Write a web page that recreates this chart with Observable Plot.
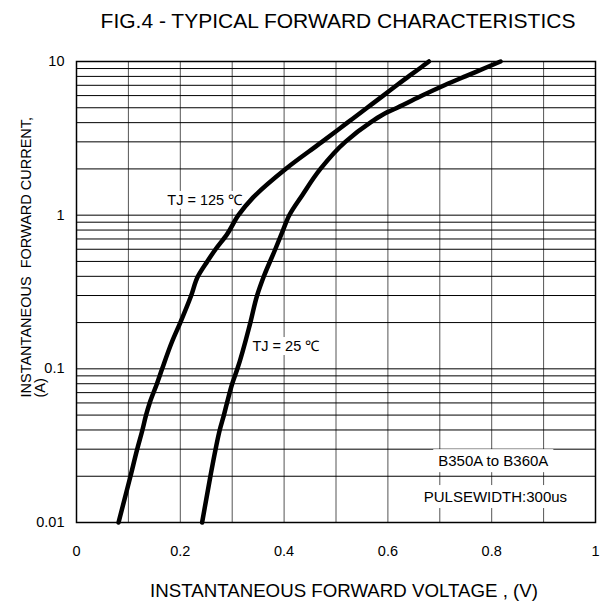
<!DOCTYPE html>
<html><head><meta charset="utf-8">
<script src="https://cdn.jsdelivr.net/npm/d3@7"></script>
<script src="https://cdn.jsdelivr.net/npm/@observablehq/plot@0.6"></script>
<style>
body{margin:0;background:#fff;}
#chart svg{display:block;}
</style></head><body><div id="chart"></div>
<script>
// ---- data ----
const titleText = "FIG.4 - TYPICAL FORWARD CHARACTERISTICS";
const xLabelText = "INSTANTANEOUS FORWARD VOLTAGE , (V)";
const yLabelText = "INSTANTANEOUS\u00a0 FORWARD CURRENT,\n(A)";

const xTicks = [0, 0.2, 0.4, 0.6, 0.8, 1];
const xTickLabels = ["0", "0.2", "0.4", "0.6", "0.8", "1"];
const yTicks = [0.01, 0.1, 1, 10];
const yTickLabels = ["0.01", "0.1", "1", "10"];

const xGrid = [0.1, 0.2, 0.3, 0.4, 0.5, 0.6, 0.7, 0.8, 0.9];
const yGrid = [0.02, 0.03, 0.04, 0.05, 0.06, 0.07, 0.08, 0.09,
               0.1, 0.2, 0.3, 0.4, 0.5, 0.6, 0.7, 0.8, 0.9,
               1, 2, 3, 4, 5, 6, 7, 8, 9];

// TJ = 125 °C
const tj125V = [0.081, 0.104, 0.117, 0.127, 0.134, 0.141, 0.155, 0.165, 0.184, 0.200, 0.221, 0.234, 0.252, 0.268, 0.290, 0.312, 0.340, 0.403, 0.473, 0.522, 0.560, 0.591, 0.617, 0.640, 0.661, 0.679];
const tj125I = [0.01, 0.02, 0.03, 0.04, 0.05, 0.06, 0.08, 0.1, 0.15, 0.2, 0.3, 0.4, 0.5, 0.6, 0.75, 1.0, 1.3, 2.0, 3.0, 4.0, 5.0, 6.0, 7.0, 8.0, 9.0, 10];
// TJ = 25 °C
const tj25V = [0.242, 0.258, 0.268, 0.276, 0.284, 0.290, 0.300, 0.310, 0.335, 0.348, 0.361, 0.383, 0.398, 0.410, 0.435, 0.470, 0.518, 0.566, 0.600, 0.618, 0.666, 0.709, 0.749, 0.785, 0.817];
const tj25I = [0.01, 0.02, 0.03, 0.04, 0.05, 0.06, 0.08, 0.1, 0.2, 0.3, 0.4, 0.6, 0.8, 1.0, 1.35, 2.0, 3.0, 4.0, 4.7, 5.0, 6.0, 7.0, 8.0, 9.0, 10];

// annotations (data coordinates)
const curveLabels = ["TJ = 125 \u2103", "TJ = 25 \u2103"];
const curveLabelV = [0.175, 0.339];
const curveLabelI = [1.25, 0.14];
const noteLabels = ["B350A to B360A", "PULSEWIDTH:300us"];
const noteLabelV = [0.697, 0.669];
const noteLabelI = [0.025, 0.0146];

// ---- build ----
const s125 = tj125V.map((v, i) => ({v, a: tj125I[i]}));
const s25 = tj25V.map((v, i) => ({v, a: tj25I[i]}));
const curveAnn = curveLabels.map((t, i) => ({t, v: curveLabelV[i], a: curveLabelI[i]}));
const noteAnn = noteLabels.map((t, i) => ({t, v: noteLabelV[i], a: noteLabelI[i]}));

const chart = Plot.plot({
  width: 601, height: 604,
  marginLeft: 76, marginRight: 6, marginTop: 61, marginBottom: 82,
  style: {fontFamily: "'Liberation Sans', Arial, sans-serif", background: "#fff", color: "#000", overflow: "visible"},
  x: {domain: [0, 1], axis: null},
  y: {type: "log", domain: [0.01, 10], axis: null},
  marks: [
    Plot.gridX(xGrid, {stroke: "#555", strokeOpacity: 1, strokeWidth: 1}),
    Plot.gridY(yGrid, {stroke: "#000", strokeOpacity: 1, strokeWidth: 1}),
    Plot.frame({stroke: "#000", strokeWidth: 1.5}),
    Plot.axisX(xTicks, {tickSize: 0, tickPadding: 23, fontSize: 14.5, label: null,
      tickFormat: d => xTickLabels[xTicks.indexOf(d)]}),
    Plot.axisY(yTicks, {tickSize: 0, tickPadding: 12, fontSize: 14.5, label: null,
      tickFormat: d => yTickLabels[yTicks.indexOf(d)]}),
    Plot.line(s125, {x: "v", y: "a", stroke: "#000", strokeWidth: 4.5, strokeLinejoin: "round", curve: "monotone-y"}),
    Plot.line(s25, {x: "v", y: "a", stroke: "#000", strokeWidth: 4.5, strokeLinejoin: "round", curve: "monotone-y"}),
    Plot.text(curveAnn, {x: "v", y: "a", text: "t", textAnchor: "start", lineAnchor: "middle", fontSize: 14.5, fill: "#000"}),
    Plot.text(noteAnn, {x: "v", y: "a", text: "t", textAnchor: "start", lineAnchor: "middle", fontSize: 15, fill: "#000"}),
    Plot.text([titleText], {frameAnchor: "top", dx: 2, dy: -40.7, lineAnchor: "middle", fontSize: 21, fill: "#000"}),
    Plot.text([xLabelText], {frameAnchor: "bottom", dx: 8, dy: 69, lineAnchor: "middle", fontSize: 18.7, fill: "#000"}),
    Plot.text([yLabelText], {frameAnchor: "left", dx: -56, dy: 105.5, rotate: -90, textAnchor: "start", lineAnchor: "top", fontSize: 14.5, fill: "#000"})
  ]
});
document.getElementById("chart").appendChild(chart);

// white boxes behind the annotation texts (below the curves)
const svg = chart.tagName.toLowerCase() === "svg" ? chart : chart.querySelector("svg");
const svgBox = svg.getBoundingClientRect();
const annTexts = new Set([...curveLabels, ...noteLabels]);
const lineGroup = svg.querySelector("g[aria-label='line']");
const boxG = document.createElementNS("http://www.w3.org/2000/svg", "g");
svg.querySelectorAll("text").forEach(el => {
  if (!annTexts.has(el.textContent)) return;
  const b = el.getBoundingClientRect();
  const isNote = noteLabels.includes(el.textContent);
  const px = isNote ? 5 : 4, py = isNote ? 3 : 1;
  const r = document.createElementNS("http://www.w3.org/2000/svg", "rect");
  r.setAttribute("x", b.left - svgBox.left - px);
  r.setAttribute("y", b.top - svgBox.top - py);
  r.setAttribute("width", b.width + 2 * px);
  r.setAttribute("height", b.height + 2 * py);
  r.setAttribute("fill", "#fff");
  boxG.appendChild(r);
});
svg.insertBefore(boxG, lineGroup);
</script>
</body></html>
